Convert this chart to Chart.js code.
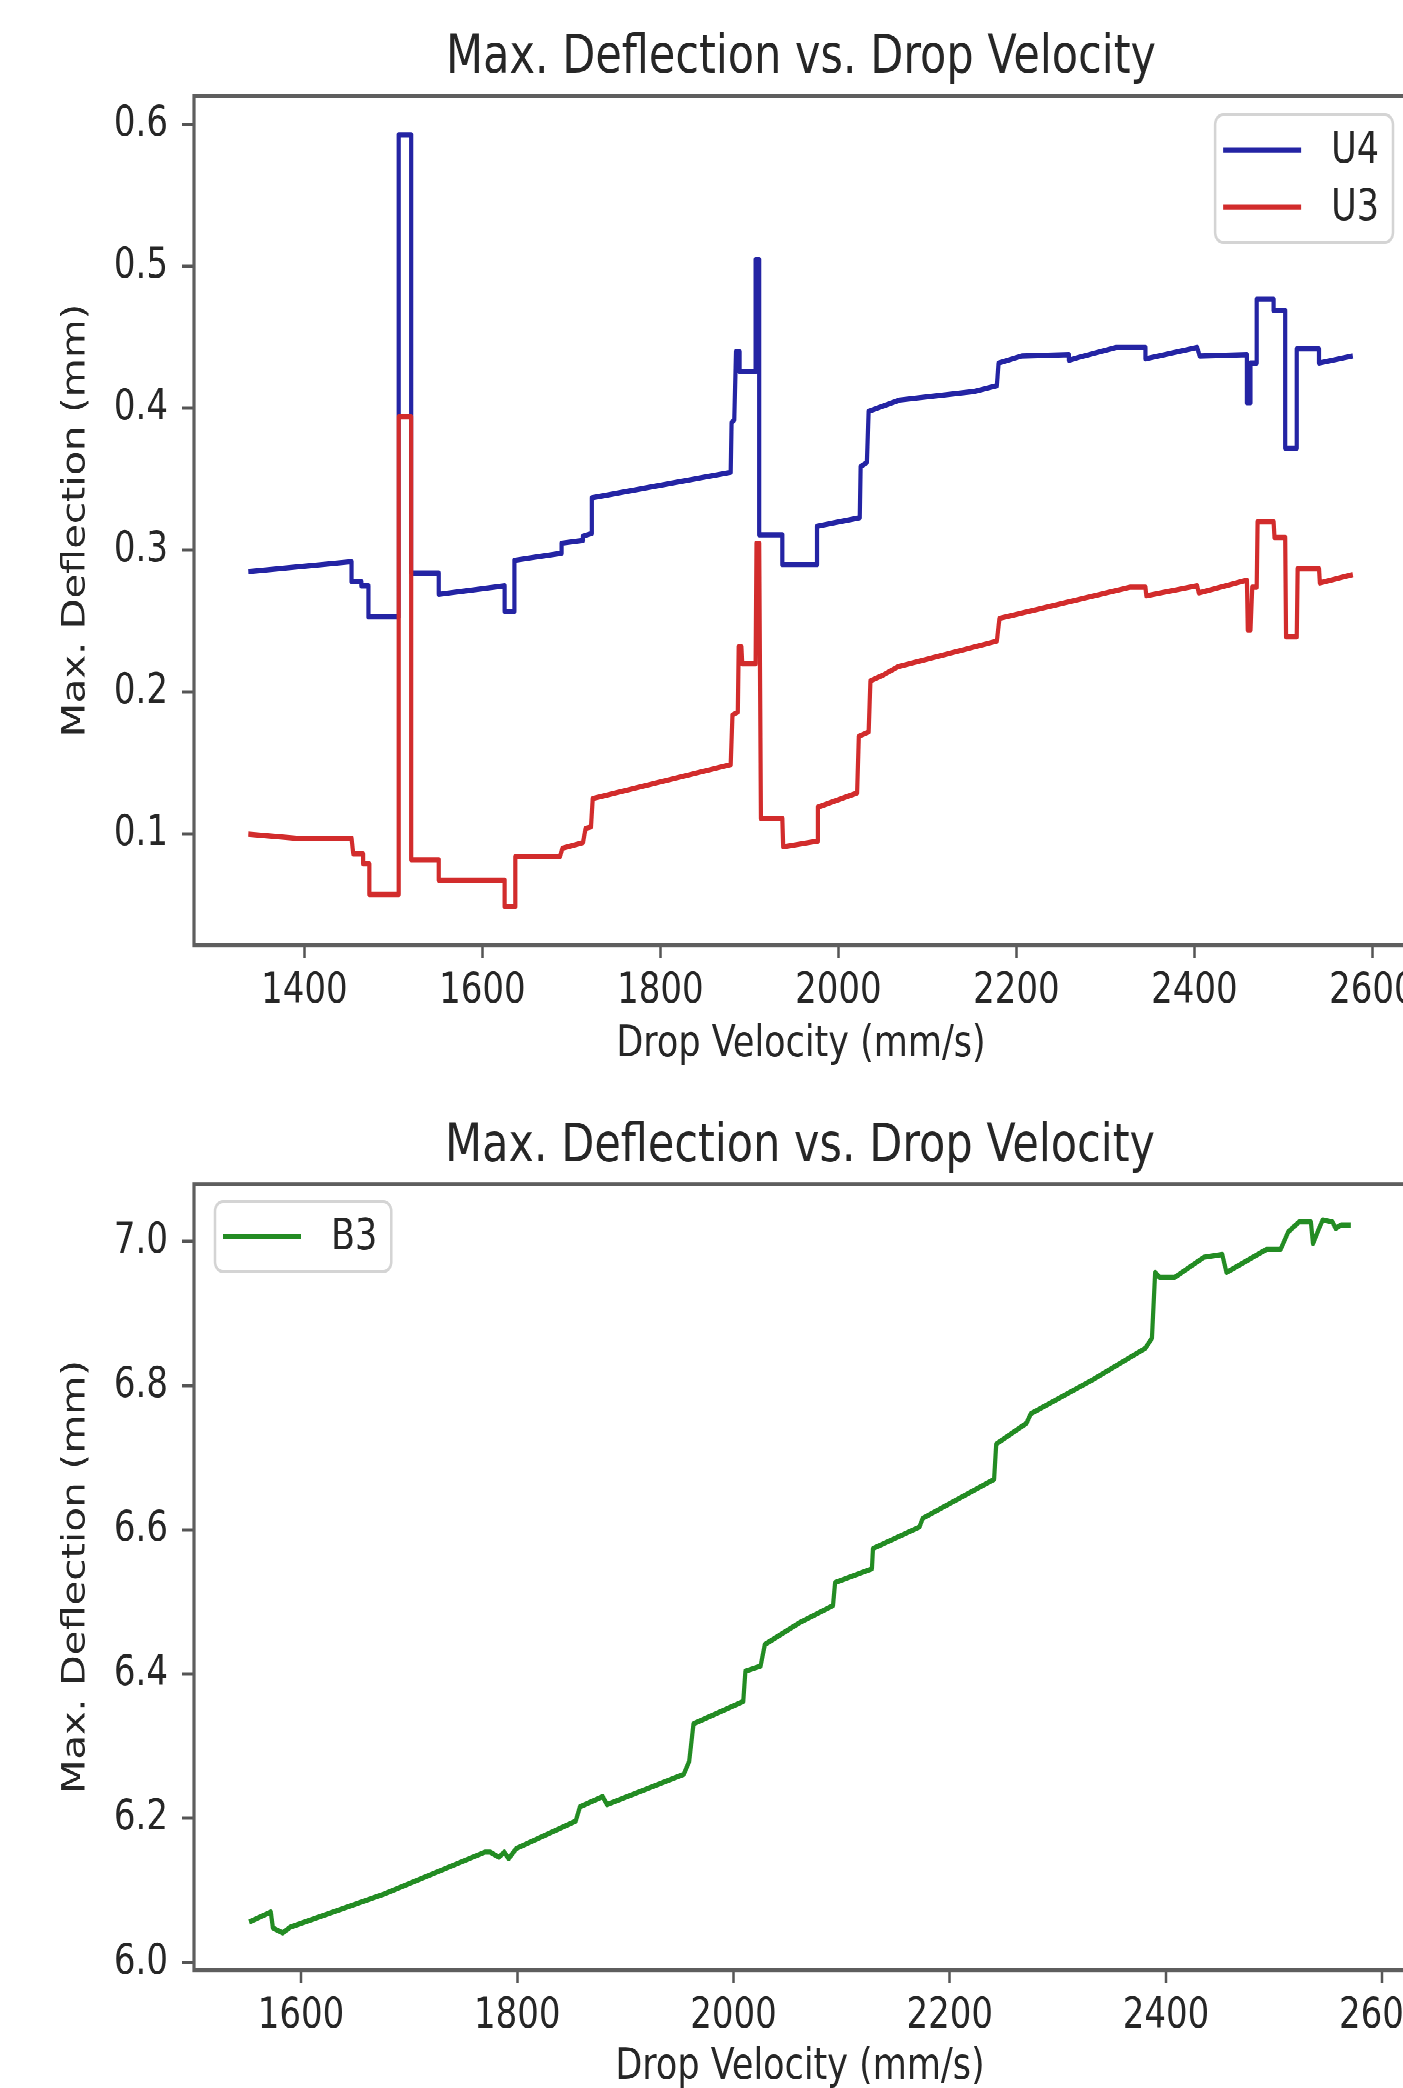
<!DOCTYPE html>
<html>
<head>
<meta charset="utf-8">
<script src="https://cdn.jsdelivr.net/npm/chart.js@4.4.1/dist/chart.umd.min.js"></script>
<style>
  body { margin: 0; background: #fff; overflow: hidden; }
  #page { position: relative; width: 1403px; height: 2088px; overflow: hidden; background: #fff; }
  /* the reference figure is stretched vertically, so the whole drawing is too */
  #inner { position: absolute; left: 0; top: 0; width: 1440px; transform: scaleY(1.25); transform-origin: 0 0; }
  .box { width: 1440px; }
</style>
</head>
<body>
<div id="page">
  <div id="inner">
    <div class="box" style="height:880px"><canvas id="topChart" width="1440" height="880"></canvas></div>
    <div class="box" style="height:830px"><canvas id="botChart" width="1440" height="830"></canvas></div>
  </div>
</div>
<script>
var FONT = "'DejaVu Sans', sans-serif";
var TXT = '#262626';

// ---- top plot: U4 / U3 ----
var u4X = [1337, 1453, 1453, 1464, 1464, 1472, 1472, 1506, 1506, 1520, 1520, 1551, 1551, 1625, 1625, 1636,
  1636, 1689, 1689, 1713, 1713, 1723, 1723, 1879, 1880, 1883, 1885, 1889, 1889, 1907, 1907, 1911, 1911,
  1937, 1937, 1976, 1976, 2024, 2025, 2032, 2034, 2069, 2153, 2178, 2180, 2206, 2259, 2259, 2270, 2312,
  2345, 2345, 2403, 2406, 2459, 2459, 2463, 2463, 2470, 2470, 2489, 2489, 2502, 2502, 2515, 2515, 2540,
  2540, 2578];
var u4Y = [0.285, 0.292, 0.278, 0.278, 0.275, 0.275, 0.253, 0.253, 0.593, 0.593, 0.284, 0.284, 0.269, 0.275, 0.257, 0.257,
  0.293, 0.298, 0.305, 0.307, 0.310, 0.312, 0.337, 0.355, 0.390, 0.392, 0.440, 0.440, 0.426, 0.426, 0.505, 0.505, 0.311,
  0.311, 0.290, 0.290, 0.317, 0.323, 0.359, 0.362, 0.398, 0.406, 0.412, 0.416, 0.432, 0.437, 0.438, 0.434, 0.436, 0.443,
  0.443, 0.435, 0.443, 0.437, 0.438, 0.404, 0.404, 0.432, 0.432, 0.477, 0.477, 0.469, 0.469, 0.372, 0.372, 0.442, 0.442,
  0.432, 0.437];

var u3X = [1337, 1391, 1453, 1455, 1466, 1466, 1473, 1473, 1506, 1506, 1520, 1520, 1551, 1551, 1625, 1625,
  1637, 1637, 1687, 1690, 1713, 1716, 1722, 1724, 1879, 1881, 1887, 1888, 1891, 1892, 1907, 1908, 1911,
  1913, 1937, 1938, 1976, 1977, 2021, 2023, 2034, 2036, 2050, 2067, 2178, 2181, 2328, 2345, 2346, 2403,
  2405, 2459, 2460, 2463, 2465, 2470, 2471, 2489, 2490, 2502, 2503, 2515, 2516, 2540, 2541, 2578];
var u3Y = [0.100, 0.097, 0.097, 0.086, 0.086, 0.079, 0.079, 0.0575, 0.0575, 0.394, 0.394, 0.082, 0.082, 0.0676, 0.0676, 0.049,
  0.049, 0.084, 0.084, 0.090, 0.094, 0.104, 0.105, 0.125, 0.149, 0.184, 0.186, 0.232, 0.232, 0.220, 0.220, 0.305, 0.305,
  0.111, 0.111, 0.091, 0.095, 0.119, 0.129, 0.169, 0.172, 0.208, 0.212, 0.218, 0.236, 0.252, 0.274, 0.274, 0.268, 0.275,
  0.270, 0.279, 0.244, 0.244, 0.274, 0.274, 0.320, 0.320, 0.309, 0.309, 0.239, 0.239, 0.287, 0.287, 0.277, 0.283];

var topXTicks = [1400, 1600, 1800, 2000, 2200, 2400, 2600];
var topYTicks = [0.1, 0.2, 0.3, 0.4, 0.5, 0.6];

// ---- bottom plot: B3 ----
var b3X = [1552, 1572, 1574, 1583, 1590, 1677, 1770, 1775, 1783, 1788, 1792, 1799, 1854, 1858, 1879, 1883,
  1954, 1959, 1963, 2009, 2011, 2025, 2029, 2062, 2092, 2094, 2128, 2129, 2172, 2175, 2241, 2243, 2271,
  2275, 2332, 2381, 2387, 2390, 2394, 2408, 2435, 2452, 2456, 2493, 2506, 2513, 2523, 2534, 2536, 2541,
  2545, 2554, 2557, 2562, 2571];
var b3Y = [6.056, 6.070, 6.048, 6.041, 6.049, 6.095, 6.153, 6.153, 6.146, 6.153, 6.144, 6.158, 6.196, 6.216, 6.230, 6.219,
  6.261, 6.279, 6.331, 6.362, 6.404, 6.411, 6.441, 6.472, 6.495, 6.527, 6.546, 6.574, 6.604, 6.616, 6.670, 6.719, 6.748,
  6.761, 6.808, 6.852, 6.866, 6.957, 6.950, 6.950, 6.978, 6.982, 6.957, 6.989, 6.989, 7.013, 7.027, 7.027, 6.997, 7.016,
  7.030, 7.027, 7.018, 7.023, 7.023];

var botXTicks = [1600, 1800, 2000, 2200, 2400, 2600];
var botYTicks = [6.0, 6.2, 6.4, 6.6, 6.8, 7.0];

function pts(xs, ys) {
  return xs.map(function (x, i) { return { x: x, y: ys[i] }; });
}

// axes frame (all four spines)
var frame = {
  id: 'frame',
  afterDatasetsDraw: function (chart) {
    var a = chart.chartArea, ctx = chart.ctx;
    ctx.save();
    ctx.strokeStyle = '#5e5e5e';
    ctx.lineWidth = 3.2;
    ctx.strokeRect(a.left, a.top, a.right - a.left, a.bottom - a.top);
    ctx.restore();
  }
};

// matplotlib style legend box inside the axes
var boxLegend = {
  id: 'boxLegend',
  afterDraw: function (chart, args, o) {
    var ctx = chart.ctx, a = chart.chartArea, sets = chart.data.datasets;
    ctx.save();
    ctx.font = '35px ' + FONT;
    var tw = Math.max.apply(null, sets.map(function (d) { return ctx.measureText(d.label).width; }));
    var w = 116 + tw + 14, h = 56 + (sets.length - 1) * 46;
    var left = o.corner === 'right' ? a.right - o.dx - w : a.left + o.dx;
    var top = a.top + o.dy, r = 8;
    ctx.beginPath();
    ctx.moveTo(left + r, top);
    ctx.arcTo(left + w, top, left + w, top + h, r);
    ctx.arcTo(left + w, top + h, left, top + h, r);
    ctx.arcTo(left, top + h, left, top, r);
    ctx.arcTo(left, top, left + w, top, r);
    ctx.closePath();
    ctx.fillStyle = 'rgba(255,255,255,0.8)';
    ctx.fill();
    ctx.strokeStyle = '#d4d4d4';
    ctx.lineWidth = 2.5;
    ctx.stroke();
    sets.forEach(function (d, i) {
      var cy = top + 28 + i * 46;
      ctx.beginPath();
      ctx.moveTo(left + 8, cy);
      ctx.lineTo(left + 86, cy);
      ctx.strokeStyle = d.borderColor;
      ctx.lineWidth = d.borderWidth;
      ctx.stroke();
      ctx.fillStyle = TXT;
      ctx.textBaseline = 'middle';
      ctx.textAlign = 'left';
      ctx.fillText(d.label, left + 116, cy + 1);
    });
    ctx.restore();
  }
};

function makeChart(id, c) {
  var ctx = document.getElementById(id).getContext('2d');
  return new Chart(ctx, {
    type: 'line',
    data: { datasets: c.datasets },
    options: {
      responsive: false,
      animation: false,
      devicePixelRatio: 2,
      layout: { padding: { left: 0, right: c.padRight, top: 0, bottom: 0 } },
      elements: { point: { radius: 0 }, line: { tension: 0, borderJoinStyle: 'round', borderCapStyle: 'butt' } },
      plugins: {
        legend: { display: false },
        tooltip: { enabled: false },
        title: {
          display: true,
          fullSize: false,
          text: 'Max. Deflection vs. Drop Velocity',
          color: TXT,
          font: { family: FONT, size: 43, weight: 'normal', lineHeight: 1 },
          padding: { top: c.titleTop, bottom: c.titleBottom }
        },
        boxLegend: c.legend
      },
      scales: {
        x: {
          type: 'linear',
          min: c.xMin, max: c.xMax,
          afterBuildTicks: function (s) { s.ticks = c.xTicks.map(function (v) { return { value: v }; }); },
          afterFit: function (s) { s.height = c.xHeight; },
          border: { display: false },
          grid: { drawOnChartArea: false, drawTicks: true, tickLength: 10, tickColor: '#555', tickWidth: 2.5 },
          ticks: {
            color: TXT, padding: 7, maxRotation: 0, autoSkip: false,
            font: { family: FONT, size: 34 },
            callback: function (v) { return String(v); }
          },
          title: {
            display: true, text: 'Drop Velocity (mm/s)', color: TXT,
            font: { family: FONT, size: 35 },
            padding: { top: 0, bottom: c.xTitlePad }
          }
        },
        y: {
          type: 'linear',
          min: c.yMin, max: c.yMax,
          afterBuildTicks: function (s) { s.ticks = c.yTicks.map(function (v) { return { value: v }; }); },
          afterFit: function (s) { s.width = 194; },
          border: { display: false },
          grid: { drawOnChartArea: false, drawTicks: true, tickLength: 12, tickColor: '#555', tickWidth: 2.5 },
          ticks: {
            color: TXT, padding: 14,
            font: { family: FONT, size: 34 },
            callback: function (v) { return v.toFixed(1); }
          },
          title: {
            display: true, text: 'Max. Deflection (mm)', color: TXT,
            font: { family: FONT, size: 32 },
            padding: { top: 57, bottom: 0 }
          }
        }
      }
    },
    plugins: [frame, boxLegend]
  });
}

var topChart = makeChart('topChart', {
  datasets: [
    { label: 'U4', data: pts(u4X, u4Y), borderColor: '#2424a4', borderWidth: 4.2, order: 1 },
    { label: 'U3', data: pts(u3X, u3Y), borderColor: '#d22c2c', borderWidth: 4.2, order: 0 }
  ],
  xMin: 1276, xMax: 2640, xTicks: topXTicks,
  yMin: 0.0218, yMax: 0.6202, yTicks: topYTicks,
  padRight: 32, titleTop: 25.3, titleBottom: 8.5, xHeight: 124, xTitlePad: 23,
  legend: { corner: 'right', dx: 15, dy: 15 }
});

var botChart = makeChart('botChart', {
  datasets: [
    { label: 'B3', data: pts(b3X, b3Y), borderColor: '#238c23', borderWidth: 4.2, order: 0 }
  ],
  xMin: 1501, xMax: 2622, xTicks: botXTicks,
  yMin: 5.9895, yMax: 7.0796, yTicks: botYTicks,
  padRight: 34, titleTop: 16.1, titleBottom: 8.1, xHeight: 134, xTitlePad: 35,
  legend: { corner: 'left', dx: 21, dy: 14 }
});
</script>
</body>
</html>
